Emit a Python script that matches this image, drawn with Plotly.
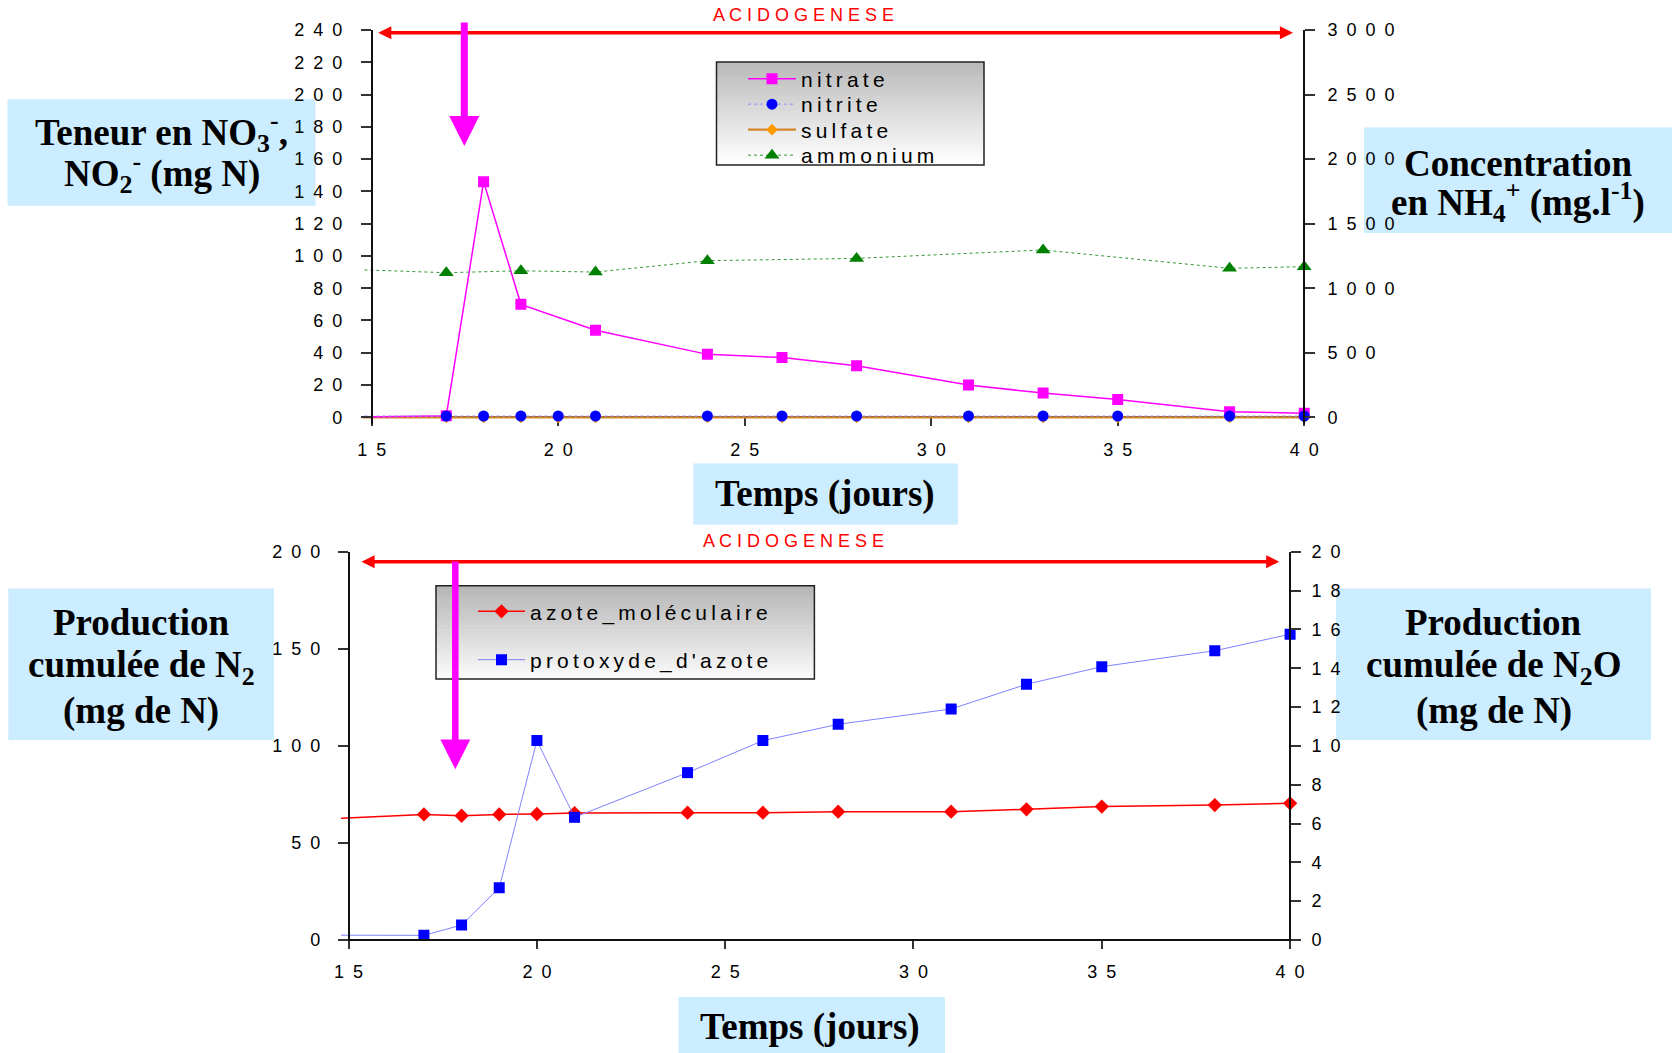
import plotly.graph_objects as go

# ------------------------------------------------------------------ data
# top chart : NO3-, NO2-, SO4, NH4+ versus time (days)
nitrate_days = [14, 17, 18, 19, 21, 24, 26, 28, 31, 33, 35, 38, 40]
nitrate = [0, 1, 146, 70, 54, 39, 37, 32, 20, 15, 11, 3.5, 2.5]

nitrite_days = [14, 17, 18, 19, 20, 21, 24, 26, 28, 31, 33, 35, 38, 40]
nitrite = [0.8, 0.8, 0.8, 0.8, 0.8, 0.8, 0.8, 0.8, 0.8, 0.8, 0.8, 0.8, 0.8, 0.8]

sulfate_days = [14, 17, 18, 19, 20, 21, 24, 26, 28, 31, 33, 35, 38, 40]
sulfate = [0, 0, 0, 0, 0, 0, 0, 0, 0, 0, 0, 0, 0, 0]

ammonium_days = [14, 17, 19, 21, 24, 28, 33, 38, 40]
ammonium = [1150, 1120, 1135, 1125, 1213, 1231, 1296, 1154, 1167]

# bottom chart : cumulated N2 and N2O production
prod_days = [14, 17, 18, 19, 20, 21, 24, 26, 28, 31, 33, 35, 38, 40]
azote_moleculaire = [62, 64.7, 64.0, 64.7, 64.9, 65.4, 65.6, 65.6, 66.1, 66.1, 67.3, 68.7, 69.5, 70.4]
protoxyde_azote = [0.25, 0.24, 0.77, 2.69, 10.27, 6.32, 8.62, 10.27, 11.11, 11.9, 13.17, 14.08, 14.9, 15.75]

# ticks
x_ticks = [15, 20, 25, 30, 35, 40]
top_left_ticks = [0, 20, 40, 60, 80, 100, 120, 140, 160, 180, 200, 220, 240]
top_right_ticks = [0, 500, 1000, 1500, 2000, 2500, 3000]
bot_left_ticks = [0, 50, 100, 150, 200]
bot_right_ticks = [0, 2, 4, 6, 8, 10, 12, 14, 16, 18, 20]

# names
top_names = ["nitrate", "nitrite", "sulfate", "ammonium"]
bot_names = ["azote_moléculaire", "protoxyde_d'azote"]
phase_label = "ACIDOGENESE"

# ------------------------------------------------------------------ geometry helpers
W, H = 1672, 1053


def px(x):
    return x / W


def py(y):
    return 1 - y / H


SANS = "Liberation Sans, Arial, sans-serif"
SERIF = "Liberation Serif, Times New Roman, serif"


def spaced(s, sep="\u2009"):
    return sep.join(s)


def digits(v):
    return "\u2002".join(str(v))


# top chart pixel geometry
T_X15, T_PPD = 371.7, 37.3
T_Y0, T_YTOP = 417.3, 30.0
T_XR = [14.75, 40.2]
T_YR = [-4, 240]
t_ppu = (T_Y0 - T_YTOP) / 240.0
t_dom_x = [px(T_X15 + (T_XR[0] - 15) * T_PPD), px(T_X15 + (T_XR[1] - 15) * T_PPD)]
t_dom_y = [py(T_Y0 - T_YR[0] * t_ppu), py(T_YTOP)]
T_X40 = T_X15 + 25 * T_PPD

# bottom chart pixel geometry
B_X15, B_PPD = 348.6, 37.66
B_Y0, B_YTOP = 940.0, 551.7
B_XR = [14.8, 40.2]
B_YR = [-2, 200]
b_ppu = (B_Y0 - B_YTOP) / 200.0
b_dom_x = [px(B_X15 + (B_XR[0] - 15) * B_PPD), px(B_X15 + (B_XR[1] - 15) * B_PPD)]
b_dom_y = [py(B_Y0 - B_YR[0] * b_ppu), py(B_YTOP)]
B_X40 = B_X15 + 25 * B_PPD

# ------------------------------------------------------------------ traces
fig = go.Figure()

fig.add_trace(go.Scatter(
    x=sulfate_days, y=sulfate, name=spaced(top_names[2]), mode="lines+markers",
    line=dict(color="#D4862A", width=2.2), marker=dict(symbol="diamond", size=9, color="#FF9900"),
    xaxis="x", yaxis="y", legend="legend4"))
fig.add_trace(go.Scatter(
    x=nitrate_days, y=nitrate, name=spaced(top_names[0]), mode="lines+markers",
    line=dict(color="#FF00FF", width=1.5), marker=dict(symbol="square", size=11, color="#FF00FF"),
    xaxis="x", yaxis="y", legend="legend"))
fig.add_trace(go.Scatter(
    x=nitrite_days, y=nitrite, name=spaced(top_names[1]), mode="lines+markers",
    line=dict(color="#9999FF", width=1.2, dash="dot"), marker=dict(symbol="circle", size=11, color="#0000FF"),
    xaxis="x", yaxis="y", legend="legend3"))
fig.add_trace(go.Scatter(
    x=ammonium_days, y=ammonium, name=spaced(top_names[3]), mode="lines+markers",
    line=dict(color="#339933", width=1, dash="dot"), marker=dict(symbol="triangle-up", size=13, color="#008000"),
    xaxis="x", yaxis="y2", legend="legend5"))

fig.add_trace(go.Scatter(
    x=prod_days, y=azote_moleculaire, name=spaced(bot_names[0]), mode="lines+markers",
    line=dict(color="#FF0000", width=1.5), marker=dict(symbol="diamond", size=11, color="#FF0000"),
    xaxis="x2", yaxis="y3", legend="legend2"))
fig.add_trace(go.Scatter(
    x=prod_days, y=protoxyde_azote, name=spaced(bot_names[1]), mode="lines+markers",
    line=dict(color="#8080FF", width=1), marker=dict(symbol="square", size=11, color="#0000FF"),
    xaxis="x2", yaxis="y4", legend="legend6"))

# ------------------------------------------------------------------ axes
TICKFONT = dict(family=SANS, size=18, color="black")
axis_common = dict(showgrid=False, zeroline=False, showline=True, linecolor="#111111", linewidth=1.5,
                   ticks="outside", tickwidth=1.5, tickcolor="#333333", tickfont=TICKFONT, automargin=False)
cross_common = dict(showgrid=False, zeroline=False, showline=False, ticks="inside", ticklen=10,
                    tickwidth=1.5, tickcolor="#333333", showticklabels=False, automargin=False)

layout_axes = dict(
    xaxis=dict(axis_common, domain=t_dom_x, range=T_XR, anchor="free", position=py(T_Y0),
               tickvals=x_ticks, ticktext=[digits(v) for v in x_ticks], ticklen=8, ticklabelstandoff=8,
               layer="below traces"),
    yaxis=dict(axis_common, domain=t_dom_y, range=T_YR, anchor="free", position=px(T_X15),
               tickvals=top_left_ticks, ticktext=[digits(v) for v in top_left_ticks], ticklen=10,
               ticklabelstandoff=15),
    yaxis2=dict(axis_common, overlaying="y", side="right", range=[T_YR[0] * 12.5, 3000], anchor="free",
                position=px(T_X40), tickvals=top_right_ticks, ticktext=[digits(v) for v in top_right_ticks],
                ticklen=10, ticklabelstandoff=9),
    yaxis5=dict(cross_common, overlaying="y", side="right", range=[T_YR[0] * 12.5, 3000], anchor="free",
                position=px(T_X40), tickvals=top_right_ticks),
    xaxis2=dict(axis_common, domain=b_dom_x, range=B_XR, anchor="free", position=py(B_Y0),
                tickvals=x_ticks, ticktext=[digits(v) for v in x_ticks], ticklen=8, ticklabelstandoff=8),
    yaxis3=dict(axis_common, domain=b_dom_y, range=B_YR, anchor="free", position=px(B_X15),
                tickvals=bot_left_ticks, ticktext=[digits(v) for v in bot_left_ticks], ticklen=10,
                ticklabelstandoff=14),
    yaxis4=dict(axis_common, overlaying="y3", side="right", range=[B_YR[0] / 10, 20], anchor="free",
                position=px(B_X40), tickvals=bot_right_ticks, ticktext=[digits(v) for v in bot_right_ticks],
                ticklen=10, ticklabelstandoff=7),
    yaxis6=dict(cross_common, overlaying="y3", side="right", range=[B_YR[0] / 10, 20], anchor="free",
                position=px(B_X40), tickvals=bot_right_ticks),
)

# ------------------------------------------------------------------ shapes (label boxes, legend boxes)
BOX_BLUE = "#CCECFF"
shapes = []


def rect(x0, y0, x1, y1, **kw):
    d = dict(type="rect", xref="paper", yref="paper", x0=px(x0), x1=px(x1), y0=py(y1), y1=py(y0),
             layer="below")
    d.update(kw)
    shapes.append(d)


for (x0, y0, x1, y1) in [(7.5, 99.3, 315.5, 205.7), (1364, 127.5, 1672, 233),
                         (693.3, 463.5, 958, 524.5), (8.3, 588.5, 274, 740),
                         (1336, 588.5, 1651, 740), (678.5, 997, 945, 1053)]:
    rect(x0, y0, x1, y1, fillcolor=BOX_BLUE, line=dict(width=0))


def gradient_box(x0, y0, x1, y1, top_grey, bottom_grey, n=30):
    hh = (y1 - y0) / n
    for i in range(n):
        g = int(round(top_grey + (bottom_grey - top_grey) * i / (n - 1)))
        rect(x0, y0 + i * hh, x1, y0 + (i + 1) * hh + 0.6, fillcolor=f"rgb({g},{g},{g})", line=dict(width=0))
    rect(x0, y0, x1, y1, fillcolor="rgba(0,0,0,0)", line=dict(color="#222222", width=1.5))


gradient_box(716.5, 62, 984, 165, 186, 255)
gradient_box(436, 585.7, 814.4, 679, 182, 250)

# ------------------------------------------------------------------ annotations
ann = []


def label(text, x, y, size=37):
    ann.append(dict(text=f"<b>{text}</b>", x=px(x), y=py(y), xref="paper", yref="paper",
                    xanchor="center", yanchor="middle", showarrow=False,
                    font=dict(family=SERIF, size=size, color="black")))


label("Teneur en NO<sub>3</sub><sup>-</sup>,", 161.5, 132)
label("NO<sub>2</sub><sup>-</sup> (mg N)", 161.5, 173)
label("Concentration", 1518, 163)
label("en NH<sub>4</sub><sup>+</sup> (mg.l<sup>-1</sup>)", 1518, 202)
label("Temps (jours)", 825, 494)
label("Production", 141, 622)
label("cumulée de N<sub>2</sub>", 141, 667)
label("(mg de N)", 141, 711)
label("Production", 1493.5, 622)
label("cumulée de N<sub>2</sub>O", 1493.5, 667)
label("(mg de N)", 1493.5, 711)
label("Temps (jours)", 810, 1027)

for (cx, cy) in [(803, 15), (793, 540.6)]:
    ann.append(dict(text=spaced(phase_label, " "), x=px(cx), y=py(cy), xref="paper", yref="paper",
                    xanchor="center", yanchor="middle", showarrow=False,
                    font=dict(family=SANS, size=18, color="#FF0000")))


def arrow(x_tip, y_tip, x_tail, y_tail, color, width, size, both=False):
    d = dict(text="", x=px(x_tip), y=py(y_tip), xref="paper", yref="paper",
             ax=x_tail - x_tip, ay=y_tail - y_tip, axref="pixel", ayref="pixel",
             showarrow=True, arrowhead=2, arrowsize=size, arrowwidth=width, arrowcolor=color,
             standoff=0, startstandoff=0)
    if both:
        d.update(arrowside="end+start", startarrowhead=2, startarrowsize=size)
    ann.append(d)


arrow(1293, 32.7, 376.7, 32.7, "#FF0000", 3.5, 0.75, both=True)
arrow(1279.3, 561.7, 360, 561.7, "#FF0000", 3.5, 0.75, both=True)
arrow(464.3, 146, 464.3, 21, "#FF00FF", 7, 0.86)
arrow(455.3, 769.3, 455.3, 560, "#FF00FF", 6.5, 0.92)

# ------------------------------------------------------------------ legends (one per entry)
LEGFONT = dict(family=SANS, size=21, color="black")


def leg(x_left, y_center, itemwidth):
    return dict(x=px(x_left), y=py(y_center), xanchor="left", yanchor="middle",
                bgcolor="rgba(0,0,0,0)", borderwidth=0, font=LEGFONT, itemwidth=itemwidth)


legends = dict(
    legend=leg(743, 79, 48),
    legend3=leg(743, 104.5, 48),
    legend4=leg(743, 130, 48),
    legend5=leg(743, 155.5, 48),
    legend2=leg(473, 611.7, 47),
    legend6=leg(473, 660, 47),
)

# ------------------------------------------------------------------ layout
fig.update_layout(
    width=W, height=H, autosize=False,
    margin=dict(l=0, r=0, t=0, b=0, pad=0, autoexpand=False),
    paper_bgcolor="white", plot_bgcolor="rgba(0,0,0,0)",
    font=dict(family=SANS, size=18, color="black"),
    showlegend=True,
    shapes=shapes,
    annotations=ann,
    **legends,
    **layout_axes,
)

fig.write_html("out.html")
